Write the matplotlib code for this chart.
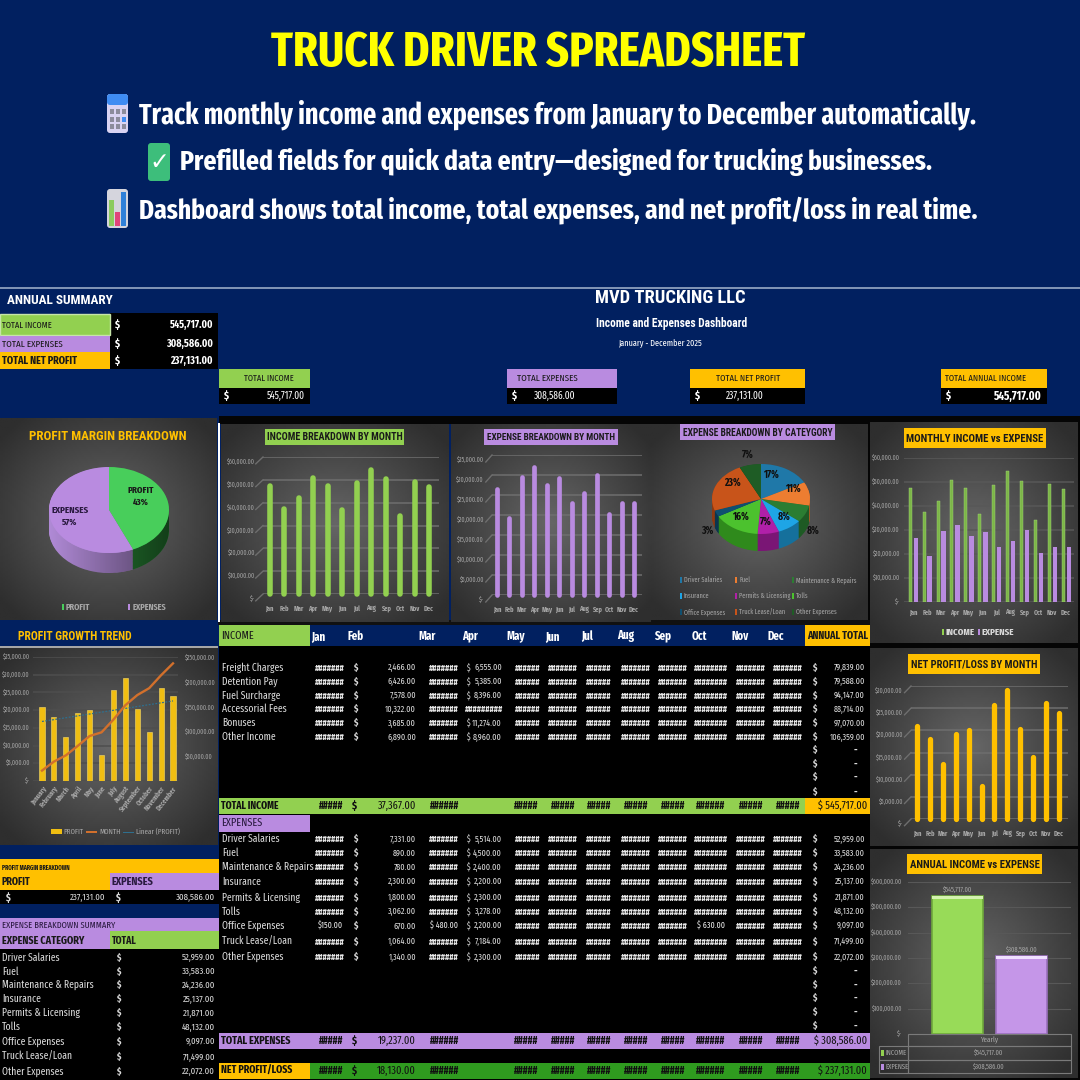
import numpy as np
import matplotlib
matplotlib.use("Agg")
import matplotlib.pyplot as plt
from matplotlib.patches import Rectangle, FancyBboxPatch, PathPatch
from matplotlib.path import Path

W, H = 1080, 1080
NAVY = "#012060"
GREEN = "#92D050"
PURPLE = "#B98BE0"
AMBER = "#FFC000"
DKGREEN = "#2F9B1F"
LIGHT = "#D9D9D9"
GRAYTXT = "#A6A6A6"
NARROW = ["Fira Sans Extra Condensed", "Liberation Sans", "DejaVu Sans"]
WIDE = ["Roboto Condensed", "Liberation Sans", "DejaVu Sans"]
TICK = 4.6
plt.rcParams["font.family"] = NARROW

# data
months = ["Jan", "Feb", "Mar", "Apr", "May", "Jun", "Jul", "Aug", "Sep", "Oct", "Nov", "Dec"]
months_full = ["January", "February", "March", "April", "May", "June", "July", "August",
               "September", "October", "November", "December"]
income_by_month = [47500, 37367, 41900, 51000, 47500, 36700, 48700, 54400, 50400, 34200, 49150, 46900]
expense_by_month = [26500, 19237, 29400, 31900, 27500, 29300, 23000, 25400, 30000, 20300, 23000, 23049]
profit_by_month = [21000, 18130, 12500, 19100, 20000, 7400, 25700, 29000, 20400, 13900, 26150, 23851]
profit_running = [21000, 39130, 51630, 70730, 90730, 98130, 123830, 152830, 173230, 187130, 213280, 237131]
trend_months = [0, 11]
trend_values = [16800, 22600]

total_income = 545717
total_expenses = 308586
total_profit = 237131

income_rows = ["Freight Charges", "Detention Pay", "Fuel Surcharge", "Accessorial Fees", "Bonuses", "Other Income"]
income_feb = [2466, 6426, 7578, 10322, 3685, 6890]
income_apr = [6555, 5385, 8396, None, 11274, 8960]
income_annual = [79839, 79588, 94147, 88714, 97070, 106359]

expense_rows = ["Driver Salaries", "Fuel", "Maintenance & Repairs", "Insurance", "Permits & Licensing",
                "Tolls", "Office Expenses", "Truck Lease/Loan", "Other Expenses"]
expense_feb = [7331, 890, 780, 2300, 1800, 3062, 670, 1064, 1340]
expense_apr = [5514, 4500, 2400, 2200, 2300, 3278, 2200, 7184, 2300]
expense_annual = [52959, 33583, 24236, 25137, 21871, 48132, 9097, 71499, 22072]
category_pct = ["17%", "11%", "8%", "8%", "7%", "16%", "3%", "23%", "7%"]
category_colors = ["#1F78A8", "#ED7D31", "#2B7D32", "#1EA5E6", "#B020A8", "#4CC22E", "#0F4F70", "#C8541A", "#1E5C25"]

fig = plt.figure(figsize=(10.8, 10.8), dpi=100, facecolor=NAVY)
base = fig.add_axes([0, 0, 1, 1])
base.set_axis_off()
# all free text goes on a layer above the chart axes
top = fig.add_axes([0, 0, 1, 1], zorder=10)
top.set_axis_off()
top.set_xlim(0, W)
top.set_ylim(H, 0)
renderer = fig.canvas.get_renderer()


def rect(x0, y0, x1, y1, color, z=1, **kw):
    base.add_patch(Rectangle((x0, y0), x1 - x0, y1 - y0, fc=color, ec=kw.pop("ec", "none"), zorder=z, **kw))


def txt(x, y, s, size=7.5, color=LIGHT, ha="left", bold=False, width=None, family=None, **kw):
    t = top.text(x, y, s, fontsize=size, color=color, ha=ha, va="center", zorder=6,
                 fontweight="bold" if bold else "normal", family=family or NARROW, **kw)
    if width:
        t.set_fontsize(size * width / t.get_window_extent(renderer).width)
    return t


def panel(x0, y0, x1, y1, lo=0.18, hi=0.40):
    yy, xx = np.mgrid[-1:1:100j, -1:1:100j]
    grad = hi - (hi - lo) * np.clip(np.sqrt(xx ** 2 + yy ** 2) / 1.3, 0, 1)
    base.imshow(grad, extent=(x0, x1, y1, y0), cmap="gray", vmin=0, vmax=1, aspect="auto", zorder=2)


def inset(x0, y0, x1, y1):
    ax = fig.add_axes([x0 / W, 1 - y1 / H, (x1 - x0) / W, (y1 - y0) / H])
    ax.patch.set_alpha(0)
    for s in ax.spines.values():
        s.set_visible(False)
    return ax


def money(v):
    return "$-" if v == 0 else f"${v:,.2f}"


def style_axis(ax, vmax, step, first, last, x0, x1, xlabels=months, slant=False, lab_dx=8, lab_dy=-5, grid="#6E6E6E"):
    sp = (last - first) / 11
    ax.set_xlim(-(first - x0) / sp, 11 + (x1 - last) / sp)
    ax.set_ylim(0, vmax)
    ticks = np.arange(0, vmax + 1, step)
    ax.set_yticks(ticks)
    ax.set_yticklabels([])
    ax.tick_params(length=0, axis="both")
    ax.yaxis.grid(True, color=grid, lw=1.1)
    ax.set_axisbelow(True)
    for v in ticks:
        ax.annotate(money(v), xy=(0, v), xycoords=ax.get_yaxis_transform(), xytext=(-lab_dx, lab_dy),
                    textcoords="offset pixels", ha="right", va="center", fontsize=TICK, color=GRAYTXT,
                    annotation_clip=False)
        if slant:
            xl = ax.get_xlim()[0]
            ax.plot([xl - 0.5, xl], [v - vmax * 0.05, v], color=grid, lw=1.0, clip_on=False)
    ax.set_xticks(range(12))
    ax.set_xticklabels(xlabels, fontsize=5, color=GRAYTXT, fontweight="bold")
    ax.tick_params(axis="x", pad=8)


def month_chart(box, values, vmax, step, color, lw, first, last, slant=True):
    ax = inset(*box)
    ax.vlines(range(12), 0, values, colors=color, lw=lw, capstyle="round")
    style_axis(ax, vmax, step, first, last, box[0], box[2], slant=slant)
    for c in ax.collections:
        c.set_clip_on(False)
    return ax


def title_box(x0, y0, x1, y1, s, color, size=7.5):
    rect(x0, y0, x1, y1, color, z=5)
    txt((x0 + x1) / 2, (y0 + y1) / 2 + 0.5, s, size=size, color="#1A1A1A", ha="center", bold=True,
        width=(x1 - x0) - 5, family=WIDE)


def pie3d(cx, cy, rx, ry, depth, values, colors, sides, shade=0.55):
    ax = inset(cx - rx, cy - ry, cx + rx, cy + ry + depth)
    d = depth / ry
    for k in np.linspace(d, 0.01, 26):
        ax.pie(values, colors=sides, startangle=90, counterclock=False, center=(0, -k), radius=1,
               wedgeprops={"linewidth": 0.3, "edgecolor": "none", "zorder": 1})
    ax.pie(values, colors=colors, startangle=90, counterclock=False, radius=1,
           wedgeprops={"linewidth": 0, "zorder": 3})
    # side shading, clipped to the rim of the pie
    th = np.linspace(np.pi, 2 * np.pi, 80)
    rim_top = np.c_[np.cos(th), np.sin(th)]
    rim_low = np.c_[np.cos(th[::-1]), np.sin(th[::-1]) - d]
    rim = PathPatch(Path(np.r_[rim_top, rim_low]), fc="none", ec="none", transform=ax.transData)
    ax.add_patch(rim)
    shadow = np.zeros((2, 100, 4))
    shadow[..., 3] = np.linspace(0, shade, 100)
    im = ax.imshow(shadow, extent=(-1, 1, -1 - d, 0), aspect="auto", zorder=2)
    im.set_clip_path(rim)
    ax.set_aspect("auto")
    ax.set_xlim(-1, 1)
    ax.set_ylim(-1 - d, 1)
    return ax


# ---------- background blocks ----------
rect(0, 287, 1080, 288.5, "#7F93B5", z=2)
rect(219, 416, 1080, 424, "#050505")
rect(868, 416, 1080, 1080, "#050505")
rect(219, 646, 870, 1080, "#000000")
rect(218, 620, 870, 625, "#111111")

# ---------- headline ----------
txt(538, 53, "TRUCK DRIVER SPREADSHEET", size=38, color="#FFFF00", ha="center", bold=True, width=534)
txt(139, 115, "Track monthly income and expenses from January to December automatically.", size=24,
    color="white", bold=True, width=836)
txt(180, 162, "Prefilled fields for quick data entry\u2014designed for trucking businesses.", size=24,
    color="white", bold=True, width=753)
txt(139, 210, "Dashboard shows total income, total expenses, and net profit/loss in real time.", size=24,
    color="white", bold=True, width=838)

# icons next to the headline lines
base.add_patch(FancyBboxPatch((107, 94), 21, 39, boxstyle="round,pad=0,rounding_size=3", fc="#D9D3F2", ec="none", zorder=3))
base.add_patch(FancyBboxPatch((107, 94), 21, 11, boxstyle="round,pad=0,rounding_size=3", fc="#3F8CF2", ec="none", zorder=4))
for r in range(3):
    for c in range(3):
        rect(110 + c * 6, 109 + r * 7.5, 114 + c * 6, 114 + r * 7.5, "#3F8CF2" if (r, c) == (1, 2) else "#8C8C9C", z=5)
base.add_patch(FancyBboxPatch((148, 143), 22, 38, boxstyle="round,pad=0,rounding_size=3", fc="#3DBE7B", ec="none", zorder=3))
txt(159, 162, "\u2713", size=17, color="white", ha="center", bold=True, family=["DejaVu Sans"])
base.add_patch(FancyBboxPatch((107, 189), 21, 39, boxstyle="round,pad=0,rounding_size=3", fc="#D5D5DD", ec="none", zorder=3))
rect(109, 200, 113.5, 226, "#8CCB5E", z=4)
rect(114.5, 212, 120, 226, "#E0457B", z=4)
rect(121, 192, 126, 226, "#2F80D8", z=4)

# ---------- annual summary ----------
txt(7, 300, "ANNUAL SUMMARY", size=9.5, color="white", bold=True, family=WIDE, width=106)
rect(110, 313, 218, 369, "#000000")
rect(0, 314, 110, 335, GREEN, ec="#C6E5A8", lw=1)
rect(0, 336, 110, 352, PURPLE)
rect(0, 352, 110, 369, AMBER)
summary = [("TOTAL INCOME", total_income, 325, False, 50), ("TOTAL EXPENSES", total_expenses, 344, False, 61),
           ("TOTAL NET PROFIT", total_profit, 361, True, 75)]
for s, v, y, b, tw in summary:
    txt(2, y, s, size=8, color="#1A1A1A", bold=b, width=tw)
    txt(118, y, "$", size=8, color="white", ha="center", bold=True)
    txt(213, y, f"{v:,.2f}", size=7.8, color="white", ha="right", bold=True)

# ---------- company header ----------
txt(670, 298, "MVD TRUCKING LLC", size=13, color="white", ha="center", bold=True, family=WIDE, width=150)
txt(672, 324, "Income and Expenses Dashboard", size=8.5, color="white", ha="center", bold=True, family=WIDE, width=151)
txt(660, 344, "January - December 2025", size=7, color="white", ha="center", width=84)

kpis = [(219, 310, GREEN, "TOTAL INCOME", total_income, False, 269, 50, 305),
        (507, 617, PURPLE, "TOTAL EXPENSES", total_expenses, False, 547, 61, 575),
        (690, 805, AMBER, "TOTAL NET PROFIT", total_profit, False, 748, 64, 764),
        (941, 1047, AMBER, "TOTAL ANNUAL INCOME", total_income, True, 986, 81, 1042)]
for x0, x1, c, s, v, b, tx, tw, right in kpis:
    rect(x0, 369, x1, 388, c)
    rect(x0, 388, x1, 404, "#000000")
    txt(tx, 378.5, s, size=8, color="#1A1A1A", ha="center", width=tw)
    txt(x0 + 8, 396, "$", size=8, color="white", ha="center", bold=True)
    txt(right, 396, f"{v:,.2f}", size=8.6 if b else 7.3, color="white", ha="right", bold=b)

# ---------- profit margin pie ----------
panel(0, 418, 217, 620)
rect(218, 423, 219.5, 622, "white", z=3)
txt(108, 436, "PROFIT MARGIN BREAKDOWN", size=8.5, color=AMBER, ha="center", bold=True, family=WIDE, width=155)
pie3d(109, 510, 60, 43, 20, [total_profit, total_expenses], ["#48CE5B", "#B98BE0"], ["#2A8A38", "#B08AD6"])
txt(141, 496, "PROFIT\n43%", size=7, color="#1A1A1A", ha="center", bold=True, linespacing=1.4)
txt(70, 516, "EXPENSES\n57%", size=7, color="#2A1A40", ha="center", bold=True, linespacing=1.4)
rect(62, 604, 64, 610, "#48CE5B", z=5)
txt(66, 607, "PROFIT", size=6.5, color=GRAYTXT, bold=True)
rect(128, 604, 130, 610, PURPLE, z=5)
txt(133, 607, "EXPENSES", size=6.5, color=GRAYTXT, bold=True)

# ---------- income / expense by month ----------
panel(221, 424, 449, 622)
title_box(265, 429, 404, 445, "INCOME BREAKDOWN BY MONTH", GREEN)
month_chart((263, 457, 439, 594), income_by_month, 60000, 10000, GREEN, 4.0, 269.5, 429)

panel(451, 424, 651, 622)
title_box(484, 429, 618, 445, "EXPENSE BREAKDOWN BY MONTH", PURPLE)
month_chart((492, 455, 642, 595), expense_by_month, 35000, 5000, PURPLE, 3.4, 497, 634)

# ---------- expense category pie ----------
panel(651, 424, 868, 620)
title_box(680, 424, 835, 440, "EXPENSE BREAKDOWN BY CATEYGORY", PURPLE, size=7)
side_colors = ["#17597C", "#A85A24", "#1E5A24", "#15709C", "#7A1675", "#2F8A1C", "#0A3650", "#8C3A12", "#143F1A"]
pie3d(761, 499, 49, 35, 17, expense_annual, category_colors, side_colors, shade=0.0)
pct_pos = [(771, 475), (793, 489), (813, 531), (784, 517), (766, 522), (740, 517), (707, 531), (732, 483), (748, 455)]
for (px, py), pct in zip(pct_pos, category_pct):
    txt(px, py, pct, size=7.5, color="#101010", ha="center", bold=True)
leg_x = [680, 735, 792]
leg_y = [580, 596, 612]
for i, name in enumerate(expense_rows):
    lx, ly = leg_x[i % 3], leg_y[i // 3]
    rect(lx, ly - 3, lx + 2, ly + 3, category_colors[i], z=5)
    txt(lx + 4, ly, name, size=5, color=GRAYTXT)

# ---------- monthly income vs expense ----------
panel(870, 422, 1078, 643)
title_box(904, 428, 1046, 448, "MONTHLY INCOME vs EXPENSE", AMBER, size=8)
ax = inset(904, 458, 1074, 602)
x_m = np.arange(12)
ax.bar(x_m - 0.2, income_by_month, width=0.22, color="#7CB648", edgecolor="#A5D67A", lw=0.3)
ax.bar(x_m + 0.2, expense_by_month, width=0.32, color=PURPLE, lw=0)
style_axis(ax, 60000, 10000, 913, 1066, 904, 1074, grid="#585858", lab_dy=0, lab_dx=4)
ax.tick_params(axis="x", pad=5)
rect(942, 629, 944, 635, GREEN, z=5)
txt(946, 632, "INCOME", size=7, color=LIGHT, bold=True)
rect(978, 629, 980, 635, PURPLE, z=5)
txt(982, 632, "EXPENSE", size=7, color=LIGHT, bold=True)

# ---------- net profit by month ----------
panel(870, 648, 1078, 846)
title_box(908, 654, 1040, 674, "NET PROFIT/LOSS BY MONTH", AMBER, size=8)
month_chart((911, 686, 1068, 819), profit_by_month, 30000, 5000, AMBER, 3.8, 917, 1059)

# ---------- annual income vs expense ----------
panel(870, 849, 1078, 1078)
title_box(907, 854, 1042, 874, "ANNUAL INCOME vs EXPENSE", AMBER, size=8)
ax = inset(908, 882, 1071, 1034)
ax.set_xlim(-0.5, 0.5)
ax.set_ylim(0, 600000)
bar_w = 0.31
ax.bar([-0.195], [total_income], width=bar_w, color="#98DB58", edgecolor="#6FA83C", lw=1.2)
ax.bar([0.195], [total_expenses], width=bar_w, color="#C596E8", edgecolor="#9A70BC", lw=1.2)
ax.bar([-0.195], [14000], bottom=[total_income - 14000], width=bar_w, color="#D4F2B0", lw=0)
ax.bar([0.195], [14000], bottom=[total_expenses - 14000], width=bar_w, color="#F0E0FF", lw=0)
ax.set_xticks([])
y_ticks = np.arange(0, 600001, 100000)
ax.set_yticks(y_ticks)
ax.set_yticklabels([])
ax.tick_params(length=0)
ax.yaxis.grid(True, color="#585858", lw=0.8)
ax.set_axisbelow(True)
for v in y_ticks:
    ax.annotate(money(v), xy=(0, v), xycoords=ax.get_yaxis_transform(), xytext=(-6, 0), textcoords="offset pixels",
                ha="right", va="center", fontsize=TICK, color=GRAYTXT, annotation_clip=False)
ax.text(-0.195, total_income + 10000, money(total_income), ha="center", va="bottom", fontsize=5, color=GRAYTXT)
ax.text(0.195, total_expenses + 10000, money(total_expenses), ha="center", va="bottom", fontsize=5, color=GRAYTXT)
for x0, y0, x1, y1 in [(908, 1034, 1071, 1046), (879, 1046, 908, 1060), (908, 1046, 1071, 1060),
                       (879, 1060, 908, 1073), (908, 1060, 1071, 1073)]:
    rect(x0, y0, x1, y1, "none", z=5, ec="#7A7A7A", lw=0.8)
txt(989, 1040, "Yearly", size=5.5, color=GRAYTXT, ha="center")
for y, name, v, c in [(1053, "INCOME", total_income, GREEN), (1066.5, "EXPENSE", total_expenses, PURPLE)]:
    rect(881, y - 3, 884, y + 3, c, z=6)
    txt(886, y, name, size=5.2, color=GRAYTXT)
    txt(989, y, money(v), size=5, color=GRAYTXT, ha="center")

# ---------- profit growth trend ----------
txt(18, 636, "PROFIT GROWTH TREND", size=9, color=AMBER, bold=True, family=WIDE, width=115)
rect(0, 646, 218, 648, "#A6A6A6", z=3)
panel(0, 648, 218, 845)
ax = inset(33, 657, 178, 781)
ax.bar(range(12), profit_by_month, width=0.42, color="#F0BE12", edgecolor="#F8DC6A", lw=0.4)
style_axis(ax, 35000, 5000, 42, 173, 33, 178, xlabels=months_full, lab_dx=3, lab_dy=0, grid="#4E4E4E")
ax.set_xticklabels(months_full, rotation=52, ha="right", rotation_mode="anchor", fontsize=5.2, color=GRAYTXT)
ax.tick_params(axis="x", pad=3)
ax.plot(trend_months, trend_values, color="#2E6F8E", lw=0.9, ls=(0, (1.5, 1.2)))
ax2 = ax.twinx()
ax2.patch.set_alpha(0)
for s in ax2.spines.values():
    s.set_visible(False)
ax2.plot(range(12), profit_running, color="#D2702C", lw=1.7)
ax2.set_ylim(0, 250000)
right_ticks = np.arange(50000, 250001, 50000)
ax2.set_yticks(right_ticks)
ax2.set_yticklabels([money(v) for v in right_ticks], fontsize=TICK, color=GRAYTXT)
ax2.tick_params(length=0, pad=5)
rect(51, 829, 62, 834, "#F0BE12", z=5)
txt(63, 832, "PROFIT", size=5.5, color=GRAYTXT)
rect(86, 831, 97, 832.5, "#D2702C", z=5)
txt(99, 832, "MONTH", size=5.5, color=GRAYTXT)
rect(123, 831.5, 134, 832.5, "#2E6F8E", z=5)
txt(136, 832, "Linear (PROFIT)", size=5.5, color=GRAYTXT)

# ---------- left tables ----------
rect(0, 859, 219, 873, AMBER, z=2)
txt(2, 868, "PROFIT MARGIN BREAKDOWN", size=5, color="#1A1A1A", bold=True, width=70)
rect(0, 873, 110, 890, AMBER, z=2)
rect(110, 873, 219, 890, PURPLE, z=2)
txt(2, 882, "PROFIT", size=9, color="#1A1A1A", bold=True, width=29)
txt(112, 882, "EXPENSES", size=9, color="#2A1A40", bold=True, width=42)
rect(0, 890, 219, 904, "#000000", z=2)
txt(8, 898, "$", size=7.5, ha="center", bold=True)
txt(105, 898, f"{total_profit:,.2f}", size=6.8, ha="right")
txt(118, 898, "$", size=7.5, ha="center", bold=True)
txt(215, 898, f"{total_expenses:,.2f}", size=6.8, ha="right")
rect(0, 918, 219, 931, PURPLE, z=2)
txt(2, 925, "EXPENSE BREAKDOWN SUMMARY", size=7, color="#2A1A40", width=112)
rect(0, 931, 110, 949, PURPLE, z=2)
rect(110, 931, 219, 949, GREEN, z=2)
txt(2, 941, "EXPENSE CATEGORY", size=9, color="#1A1A1A", bold=True, width=83)
txt(112, 941, "TOTAL", size=9, color="#1A1A1A", bold=True, width=25)
rect(0, 949, 219, 1080, "#000000", z=2)
left_y = [958, 972, 985, 999, 1013, 1027, 1042, 1057, 1072]
for y, name, v in zip(left_y, expense_rows, expense_annual):
    txt(2, y, name, size=7.5)
    txt(118, y, "$", size=7, ha="center", bold=True)
    txt(215, y, f"{v:,.2f}", size=6.8, ha="right")

# ---------- main table ----------
rect(219, 625, 310, 646, GREEN, z=2)
rect(310, 625, 805, 646, NAVY, z=2)
rect(805, 625, 870, 646, AMBER, z=2)
txt(221, 636, "INCOME", size=8, color="#1A1A1A")
month_x = [318, 356, 427, 470, 516, 552, 587, 626, 663, 699, 740, 776]
for x, m in zip(month_x, months):
    txt(x, 636, m, size=8.5, color="white", ha="center", bold=True)
txt(837.5, 636, "ANNUAL TOTAL", size=8.5, color="#1A1A1A", ha="center", bold=True, width=61)

hash_x = [330, 444, 528, 563, 599, 636, 673, 711, 751, 788]
hash_n = [7, 7, 6, 7, 6, 7, 7, 8, 7, 7]
sum_n = [5, 6, 5, 5, 5, 5, 5, 6, 5, 5]
sum_x = [331, 444, 526, 563, 599, 636, 673, 711, 751, 788]


def table_row(y, name, feb, apr, annual, jan_s=None, mar_s=None, oct_s=None):
    txt(222, y, name, size=7.5)
    for x, n in zip(hash_x, hash_n):
        s = "#" * n
        if x == 330 and jan_s:
            s = jan_s
        if x == 444 and mar_s:
            s = mar_s
        if x == 711 and oct_s:
            s = oct_s
        txt(x, y, s, size=6.5 if s[0] == "#" else 6.2, ha="center", color="#E8E8E8", bold=s[0] == "#")
    txt(355, y, "$", size=7, ha="center", bold=True)
    txt(416, y, f"{feb:,.2f}", size=6.4, ha="right")
    if apr is None:
        txt(484, y, "#" * 9, size=6.5, ha="center", color="#E8E8E8", bold=True)
    else:
        txt(467, y, "$", size=6, ha="left")
        txt(502, y, f"{apr:,.2f}", size=6.4, ha="right")
    txt(814, y, "$", size=7, ha="center", bold=True)
    txt(865, y, f"{annual:,.2f}", size=6.4, ha="right")


def blank_rows(ys):
    for y in ys:
        txt(814, y, "$", size=7, ha="center", bold=True)
        txt(855, y, "-", size=7.5, ha="center", bold=True)


def total_row(y0, y1, name, band, label_c, annual_c, feb, annual, name_w):
    rect(219, y0, 870, y1, band, z=2)
    rect(219, y0, 310, y1, label_c, z=3)
    if annual_c:
        rect(805, y0, 870, y1, annual_c, z=3)
    y = (y0 + y1) / 2
    txt(221, y, name, size=9, color="#111111", bold=True, width=name_w)
    for x, n in zip(sum_x, sum_n):
        txt(x, y, "#" * n, size=7.5, color="#111111", ha="center", bold=True)
    txt(355, y, "$", size=8, color="#111111", ha="center", bold=True)
    txt(416, y, f"{feb:,.2f}", size=8, color="#111111", ha="right")
    txt(867, y, f"$ {annual:,.2f}", size=8, color="#111111", ha="right")


income_y = [668, 682, 696, 709, 723, 737]
for y, n, f, a, t in zip(income_y, income_rows, income_feb, income_apr, income_annual):
    table_row(y, n, f, a, t)
blank_rows([750, 764, 777, 792])
total_row(798, 814, "TOTAL INCOME", GREEN, GREEN, AMBER, 37367, total_income, 58)

rect(219, 815, 310, 832, PURPLE, z=2)
txt(221, 823, "EXPENSES", size=8, color="#2A1A40")
expense_y = [839, 853, 867, 882, 898, 912, 926, 942, 957]
for y, n, f, a, t in zip(expense_y, expense_rows, expense_feb, expense_apr, expense_annual):
    office = n == "Office Expenses"
    table_row(y, n, f, a, t, jan_s="$150.00" if office else None, mar_s="$ 480.00" if office else None,
              oct_s="$ 630.00" if office else None)
blank_rows([971, 985, 998, 1012, 1026])
total_row(1033, 1049, "TOTAL EXPENSES", PURPLE, PURPLE, None, 19237, total_expenses, 70)
total_row(1063, 1079, "NET PROFIT/LOSS", DKGREEN, AMBER, None, 18130, total_profit, 72)

base.set_xlim(0, W)
base.set_ylim(H, 0)
fig.savefig("out.png", dpi=100, facecolor=NAVY)
